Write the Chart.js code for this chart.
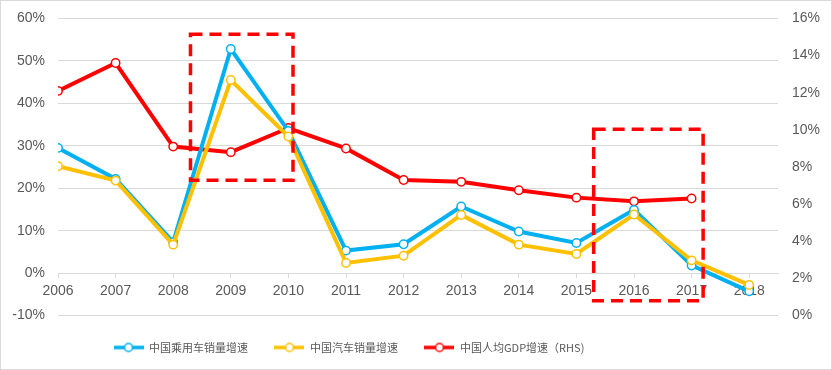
<!DOCTYPE html>
<html>
<head>
<meta charset="utf-8">
<script src="https://cdn.jsdelivr.net/npm/chart.js@4"></script>
<style>
    body { margin: 0; background: #fff; }
    #wrap {
        width: 832px;
        height: 370px;
        border: 1px solid #d9d9d9;
        box-sizing: border-box;
        position: relative;
    }
</style>
</head>
<body>
<div id="wrap"><canvas id="myChart" width="830" height="368"></canvas></div>
<script>
// years on the x axis
const years = [2006, 2007, 2008, 2009, 2010, 2011, 2012, 2013, 2014, 2015, 2016, 2017, 2018];
// left axis, %
const passengerCarSales = [29.5, 22.2, 7.3, 52.8, 33.5, 5.3, 6.8, 15.7, 9.8, 7.1, 14.9, 1.8, -4.3];
const carSales = [25.2, 21.8, 6.7, 45.5, 32.2, 2.4, 4.1, 13.7, 6.7, 4.5, 13.8, 3.0, -2.8];
// right axis, %
const gdpPerCapita = [12.1, 13.6, 9.1, 8.8, 10.1, 9.0, 7.3, 7.2, 6.75, 6.35, 6.15, 6.3, null];

const seriesNames = ["中国乘用车销量增速", "中国汽车销量增速", "中国人均GDP增速（RHS)"];
const seriesColors = ["#00b0f0", "#ffc000", "#ff0000"];

// highlighted boxes, in axis units (x: year, y: left axis %)
const boxes = [
    { x0: 2008.3, x1: 2010.08, y0: 56.3, y1: 21.9 },
    { x0: 2015.3, x1: 2017.2, y0: 33.9, y1: -6.5 },
];

const toPoints = (arr) => arr.map((v, i) => ({ x: years[i], y: v }));

// legend marker: line with hollow circle
function legendMarker(color) {
    const c = document.createElement("canvas");
    c.width = 30;
    c.height = 12;
    const g = c.getContext("2d");
    g.strokeStyle = color;
    g.lineWidth = 3.5;
    g.beginPath();
    g.moveTo(0, 6);
    g.lineTo(30, 6);
    g.stroke();
    g.fillStyle = "#fff";
    g.lineWidth = 1.5;
    g.beginPath();
    g.arc(15, 6, 4, 0, Math.PI * 2);
    g.fill();
    g.stroke();
    return c;
}

const dashedBoxes = {
    id: "dashedBoxes",
    afterDraw(chart) {
        const ctx = chart.ctx;
        const xs = chart.scales.x;
        const ys = chart.scales.y;
        ctx.save();
        ctx.strokeStyle = "#ff0000";
        ctx.lineWidth = 3.5;
        ctx.setLineDash([12, 7]);
        boxes.forEach((b) => {
            const l = xs.getPixelForValue(b.x0);
            const r = xs.getPixelForValue(b.x1);
            const t = ys.getPixelForValue(b.y0);
            const btm = ys.getPixelForValue(b.y1);
            ctx.strokeRect(l, t, r - l, btm - t);
        });
        ctx.restore();
    },
};

// move the legend row so it starts where the original does
const shiftLegend = {
    id: "shiftLegend",
    afterLayout(chart) {
        chart.legend.left = 86;
    },
};

function lineSet(i, values, axis, order) {
    return {
        label: seriesNames[i],
        data: toPoints(values),
        yAxisID: axis,
        borderColor: seriesColors[i],
        backgroundColor: "#fff",
        borderWidth: 4,
        pointRadius: 4.2,
        pointBorderWidth: 1.5,
        pointBackgroundColor: "#fff",
        pointBorderColor: seriesColors[i],
        pointStyle: "circle",
        marker: legendMarker(seriesColors[i]),
        tension: 0,
        spanGaps: false,
        order: order,
    };
}

// y axes: no extra space above/below the end labels
const noEndPadding = (width) => (scale) => {
    scale.width = width;
    scale.paddingTop = 0;
    scale.paddingBottom = 0;
};

const ctx = document.getElementById("myChart");

new Chart(ctx, {
    type: "line",
    data: {
        datasets: [
            lineSet(0, passengerCarSales, "y", 2),
            lineSet(1, carSales, "y", 1),
            lineSet(2, gdpPerCapita, "y2", 3),
        ],
    },
    plugins: [dashedBoxes, shiftLegend],
    options: {
        responsive: false,
        animation: false,
        layout: { padding: { top: 17.5, bottom: 6, left: 0, right: 0 } },
        plugins: {
            tooltip: { enabled: false },
            legend: {
                position: "bottom",
                align: "start",
                labels: {
                    usePointStyle: true,
                    pointStyleWidth: 30,
                    padding: 26.5,
                    color: "#595959",
                    font: { family: "'Noto Sans CJK SC'", size: 11 },
                    sort: (a, b) => a.datasetIndex - b.datasetIndex,
                    generateLabels(chart) {
                        return chart.data.datasets.map((d, i) => ({
                            text: d.label,
                            datasetIndex: i,
                            pointStyle: d.marker,
                            fillStyle: "#fff",
                            strokeStyle: d.borderColor,
                            lineWidth: 0,
                            fontColor: "#595959",
                            hidden: false,
                        }));
                    },
                },
            },
        },
        scales: {
            x: {
                type: "linear",
                position: { y: 0 },
                min: 2006,
                max: 2018.5,
                afterBuildTicks(scale) {
                    scale.ticks = years.map((v) => ({ value: v }));
                },
                ticks: {
                    stepSize: 1,
                    maxRotation: 0,
                    autoSkip: false,
                    padding: 6,
                    color: "#595959",
                    font: { family: "'Liberation Sans'", size: 14 },
                    callback: (v) => String(v),
                },
                grid: {
                    drawOnChartArea: false,
                    drawTicks: true,
                    tickLength: 4,
                    color: "#d9d9d9",
                },
                border: { display: true, color: "#d9d9d9", width: 1 },
            },
            y: {
                position: "left",
                min: -10,
                max: 60,
                afterFit: noEndPadding(57),
                ticks: {
                    stepSize: 10,
                    padding: 13,
                    color: "#595959",
                    font: { family: "'Liberation Sans'", size: 14 },
                    callback: (v) => v + "%",
                },
                grid: { color: "#d9d9d9", drawTicks: false },
                border: { display: false },
            },
            y2: {
                position: "right",
                min: 0,
                max: 16,
                afterFit: noEndPadding(53),
                ticks: {
                    stepSize: 2,
                    padding: 14,
                    color: "#595959",
                    font: { family: "'Liberation Sans'", size: 14 },
                    callback: (v) => v + "%",
                },
                grid: { drawOnChartArea: false, drawTicks: false },
                border: { display: false },
            },
        },
    },
});
</script>
</body>
</html>
